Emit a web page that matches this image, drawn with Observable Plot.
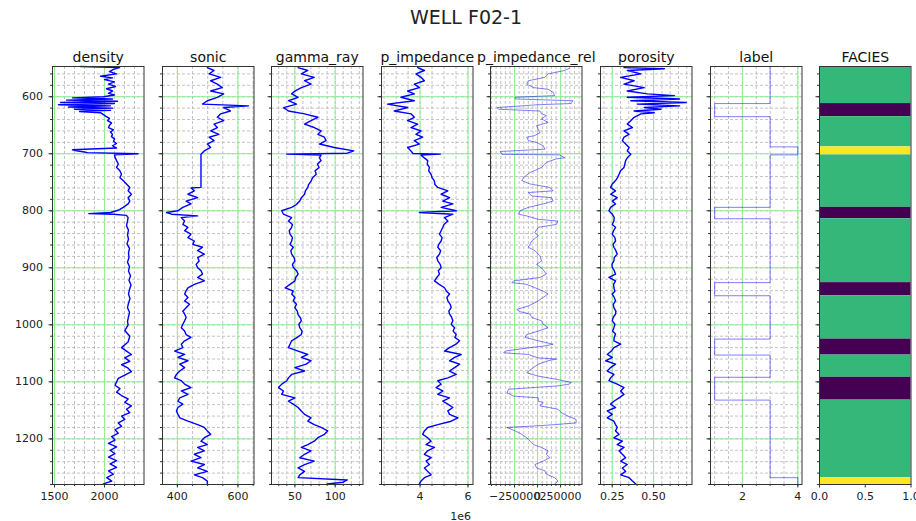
<!DOCTYPE html>
<html><head><meta charset="utf-8">
<script src="https://cdn.jsdelivr.net/npm/d3@7"></script>
<script src="https://cdn.jsdelivr.net/npm/@observablehq/plot@0.6"></script>
<style>
html,body{margin:0;padding:0;background:#fff;overflow:hidden}
#root{position:relative;width:916px;height:521px;font-family:"DejaVu Sans",sans-serif;overflow:hidden}
#title{position:absolute;left:0;width:932px;top:6px;text-align:center;font-size:19px;color:#222}
#root svg{overflow:visible}
</style></head><body><div id="root"><div id="title">WELL F02-1</div></div>
<script>
// ---------- data (depth, value) ----------
const curveNames = ["density","sonic","gamma_ray","p_impedance","p_impedance_rel","porosity","label","FACIES"];

const density = [[547,1760],[549,2150],[552,2090],[556,2050],[560,2120],[564,1960],[567,2080],[570,2000],[574,2100],[578,2040],[582,2110],[586,2020],[590,2080],[594,2040],[597,2100],[600,1990],[602,1680],[604,2080],[606,1620],[608,2130],[610,1560],[612,2100],[614,1540],[616,2060],[618,1640],[620,2080],[622,1700],[624,2060],[626,1750],[628,1960],[630,1980],[634,2010],[638,2050],[642,2030],[646,2070],[650,2050],[654,2040],[658,2090],[662,2060],[666,2080],[670,2070],[674,2100],[678,2090],[682,2120],[686,2080],[690,2120],[693,1680],[695,1720],[697,1800],[698,1830],[700,2335],[702,2100],[706,2105],[712,2121],[718,2138],[724,2121],[730,2154],[736,2170],[742,2154],[747,2187],[753,2220],[759,2253],[765,2236],[771,2269],[777,2236],[783,2253],[788,2236],[794,2187],[798,2150],[800,2121],[803,2060],[805,1843],[806,2090],[808,2220],[812,2236],[818,2230],[826,2220],[834,2240],[842,2230],[850,2240],[858,2225],[866,2250],[874,2240],[882,2245],[890,2230],[898,2250],[906,2240],[914,2260],[922,2245],[930,2265],[938,2250],[946,2240],[954,2255],[962,2240],[970,2230],[978,2250],[986,2240],[994,2230],[1000,2236],[1010,2203],[1020,2253],[1030,2236],[1040,2170],[1046,2220],[1052,2269],[1058,2203],[1064,2253],[1070,2170],[1076,2236],[1082,2269],[1088,2203],[1094,2138],[1100,2121],[1106,2105],[1112,2154],[1118,2121],[1124,2170],[1130,2236],[1136,2203],[1142,2269],[1148,2220],[1154,2253],[1160,2170],[1166,2203],[1172,2138],[1178,2170],[1184,2105],[1190,2138],[1196,2072],[1202,2105],[1208,2040],[1214,2121],[1220,2056],[1226,2105],[1232,2040],[1238,2121],[1244,2056],[1250,2121],[1256,2040],[1262,2089],[1268,2023],[1274,2072],[1279,1990]];

const sonic = [[549,499],[554,521],[560,505],[566,543],[572,510],[578,532],[584,548],[590,510],[595,553],[601,532],[607,499],[613,483],[616,635],[619,553],[625,575],[630,543],[636,532],[642,553],[648,521],[654,532],[660,510],[666,537],[671,505],[677,521],[683,499],[689,510],[695,489],[701,478],[759,478],[760,445],[765,456],[771,435],[777,467],[783,429],[788,445],[794,418],[800,402],[803,364],[806,381],[809,467],[812,413],[818,424],[824,418],[829,435],[835,424],[841,445],[847,435],[853,456],[859,451],[864,483],[870,467],[876,489],[882,467],[888,472],[894,462],[900,467],[905,478],[911,483],[917,467],[923,489],[929,456],[935,435],[940,429],[946,424],[952,435],[958,424],[964,440],[970,429],[976,418],[981,424],[987,429],[993,424],[999,418],[1005,413],[1011,424],[1017,429],[1022,445],[1028,424],[1034,413],[1040,418],[1046,391],[1052,424],[1057,402],[1063,435],[1069,408],[1075,424],[1081,408],[1087,397],[1093,391],[1098,413],[1104,424],[1110,445],[1116,413],[1122,435],[1128,408],[1134,402],[1139,418],[1145,402],[1151,397],[1157,402],[1163,408],[1169,435],[1175,467],[1180,489],[1186,499],[1192,510],[1198,489],[1204,478],[1210,499],[1215,467],[1221,489],[1227,456],[1233,478],[1239,445],[1245,489],[1251,467],[1257,499],[1263,456],[1268,483],[1274,499],[1279,499]];

const gammaRay = [[549,54],[554,66],[560,58],[566,74],[572,62],[578,70],[584,58],[590,50],[595,46],[601,54],[607,42],[613,52],[619,36],[625,42],[630,62],[636,78.5],[642,70],[648,62],[654,74],[660,82.5],[666,78.5],[671,86.6],[677,88.6],[683,80.5],[689,98.8],[695,123],[699,115],[700.6,39.8],[702.5,82.5],[707,80.5],[712,82.5],[718,78],[724,80],[730,75],[736,76.5],[742,72],[748,70],[754,67],[759,66],[765,63],[771,62],[777,58],[783,56],[789,52],[794,46],[800,33.7],[806,35.8],[812,46],[818,42],[824,47],[829,46],[835,43],[841,44],[847,47],[853,46],[859,44],[864,48],[870,45],[876,46],[882,49],[888,50],[894,47],[899,48],[905,52],[911,54],[917,51],[923,50],[929,44],[935,38],[941,48],[946,46],[952,50],[958,48],[964,52],[970,50],[976,53],[982,54],[988,57],[993,58],[999,55],[1005,56],[1011,59],[1017,58],[1023,52],[1028,46],[1034,44],[1040,42],[1046,54],[1052,66],[1057,58],[1063,70],[1069,64],[1075,50],[1081,62],[1087,46],[1093,42],[1098,40],[1104,33.7],[1110,29.7],[1116,35.8],[1122,33.7],[1128,50],[1134,42],[1139,48],[1145,54],[1151,58],[1157,62],[1163,70],[1169,66],[1175,74],[1180,82.5],[1186,90.7],[1192,86.6],[1198,78.5],[1204,74],[1210,66],[1215,58],[1221,70],[1227,62],[1233,56],[1239,74],[1245,62],[1251,54],[1257,62],[1263,56],[1268,54],[1272,115],[1276,110],[1279,90]];

const pImpedance = [[549,3.90e6],[554,4.18e6],[560,3.83e6],[566,4.04e6],[572,4.18e6],[578,3.76e6],[584,3.97e6],[590,3.48e6],[595,3.76e6],[601,3.20e6],[607,3.76e6],[613,2.64e6],[619,3.48e6],[625,2.92e6],[630,3.62e6],[636,3.76e6],[642,3.48e6],[648,3.90e6],[654,3.62e6],[660,4.04e6],[666,3.83e6],[671,4.11e6],[677,3.76e6],[683,3.97e6],[689,3.48e6],[695,3.62e6],[699.5,3.70e6],[700.6,4.85e6],[702.5,4.04e6],[712,4.32e6],[718,4.30e6],[724,4.39e6],[730,4.36e6],[736,4.46e6],[742,4.50e6],[748,4.60e6],[754,4.62e6],[759,4.74e6],[765,5.16e6],[771,4.88e6],[777,5.23e6],[783,4.95e6],[788,5.37e6],[794,4.88e6],[800,5.51e6],[803,3.97e6],[806,5.37e6],[812,5.02e6],[818,5.16e6],[824,5.00e6],[829,4.95e6],[835,4.88e6],[841,4.81e6],[847,4.92e6],[853,4.88e6],[859,4.78e6],[864,4.74e6],[870,4.86e6],[876,4.81e6],[882,4.70e6],[888,4.74e6],[894,4.84e6],[900,4.88e6],[905,4.76e6],[911,4.81e6],[917,4.70e6],[923,4.60e6],[929,4.80e6],[935,5.02e6],[941,5.10e6],[946,5.23e6],[952,5.12e6],[958,5.16e6],[964,5.26e6],[970,5.30e6],[976,5.20e6],[981,5.23e6],[987,5.32e6],[993,5.37e6],[999,5.30e6],[1005,5.44e6],[1011,5.38e6],[1017,5.51e6],[1022,5.45e6],[1028,5.65e6],[1034,5.50e6],[1040,5.23e6],[1046,5.02e6],[1052,5.72e6],[1057,5.44e6],[1063,5.23e6],[1069,5.65e6],[1075,5.44e6],[1081,5.23e6],[1087,5.51e6],[1093,5.16e6],[1098,4.74e6],[1104,4.88e6],[1110,4.67e6],[1116,4.95e6],[1122,4.74e6],[1128,5.23e6],[1134,4.95e6],[1139,5.16e6],[1145,5.37e6],[1151,5.16e6],[1157,5.23e6],[1163,5.58e6],[1169,5.30e6],[1175,4.74e6],[1180,4.32e6],[1186,4.18e6],[1192,4.11e6],[1198,4.32e6],[1204,4.46e6],[1210,4.25e6],[1215,4.60e6],[1221,4.32e6],[1227,4.18e6],[1233,4.46e6],[1239,4.25e6],[1245,4.39e6],[1251,4.18e6],[1257,4.32e6],[1263,4.46e6],[1268,4.18e6],[1274,4.04e6],[1279,3.97e6]];

const pImpedanceRel = [[550,346000],[554,293000],[560,114000],[566,79000],[572,-100000],[578,-118000],[584,-46000],[587,114000],[592,168000],[598,186000],[601,-243000],[604,-243000],[607,382000],[612,364000],[614,7000],[619,-439000],[622,-421000],[625,25000],[630,43000],[633,96000],[639,43000],[645,114000],[651,-11000],[657,7000],[663,25000],[668,-29000],[671,-118000],[677,-100000],[680,-11000],[686,61000],[692,79000],[696,-404000],[701,-386000],[702,239000],[707,293000],[709,204000],[715,96000],[724,43000],[733,-82000],[742,-154000],[747,-171000],[753,-82000],[759,132000],[765,168000],[768,-100000],[774,-64000],[777,150000],[783,168000],[788,61000],[794,-100000],[800,-189000],[806,-207000],[809,-118000],[815,7000],[818,221000],[824,204000],[829,7000],[838,-29000],[844,7000],[853,-64000],[864,-100000],[870,-29000],[879,25000],[888,43000],[894,-11000],[900,43000],[911,96000],[917,25000],[923,-261000],[926,-279000],[929,-118000],[935,-29000],[941,61000],[946,114000],[952,61000],[958,7000],[967,-100000],[973,-225000],[977,-189000],[981,-82000],[987,-64000],[993,43000],[999,61000],[1005,114000],[1011,7000],[1017,-118000],[1022,-136000],[1028,7000],[1034,168000],[1037,79000],[1040,-82000],[1046,-350000],[1049,-368000],[1052,-100000],[1058,7000],[1060,204000],[1063,114000],[1069,7000],[1075,-46000],[1081,-100000],[1084,-118000],[1090,7000],[1096,221000],[1101,364000],[1104,346000],[1107,221000],[1113,-314000],[1119,-332000],[1125,-261000],[1128,7000],[1134,7000],[1136,61000],[1142,25000],[1148,221000],[1154,257000],[1160,329000],[1166,418000],[1172,418000],[1175,186000],[1177,7000],[1180,-332000],[1186,-243000],[1192,-171000],[1198,-118000],[1204,-82000],[1210,-46000],[1215,43000],[1221,114000],[1227,96000],[1233,132000],[1239,61000],[1245,-29000],[1251,-11000],[1256,79000],[1262,96000],[1268,186000],[1274,221000],[1279,186000]];

const porosity = [[549,0.321],[551,0.565],[554,0.341],[560,0.423],[566,0.301],[572,0.382],[578,0.321],[584,0.443],[590,0.341],[595,0.463],[598,0.626],[601,0.341],[604,0.657],[607,0.362],[610,0.697],[613,0.402],[616,0.657],[619,0.443],[622,0.545],[625,0.382],[628,0.504],[630,0.423],[636,0.382],[642,0.362],[648,0.341],[654,0.372],[660,0.321],[666,0.352],[671,0.321],[677,0.311],[683,0.331],[689,0.352],[695,0.341],[701,0.362],[707,0.341],[712,0.331],[718,0.326],[724,0.321],[730,0.300],[736,0.291],[742,0.282],[747,0.270],[753,0.250],[759,0.240],[765,0.270],[771,0.240],[777,0.280],[783,0.250],[788,0.270],[794,0.240],[800,0.230],[806,0.250],[812,0.262],[818,0.260],[824,0.250],[829,0.270],[835,0.258],[841,0.250],[847,0.266],[853,0.270],[859,0.255],[864,0.260],[870,0.272],[876,0.280],[882,0.262],[888,0.260],[894,0.248],[899,0.250],[905,0.262],[911,0.270],[917,0.230],[923,0.270],[929,0.258],[935,0.260],[941,0.266],[946,0.250],[952,0.262],[958,0.270],[964,0.256],[970,0.260],[976,0.272],[981,0.270],[987,0.256],[993,0.250],[999,0.266],[1005,0.260],[1011,0.252],[1016,0.270],[1022,0.262],[1028,0.260],[1034,0.301],[1040,0.260],[1046,0.244],[1052,0.220],[1057,0.250],[1063,0.210],[1069,0.270],[1075,0.240],[1081,0.220],[1087,0.260],[1093,0.240],[1098,0.230],[1104,0.280],[1110,0.321],[1116,0.301],[1122,0.321],[1128,0.291],[1134,0.260],[1139,0.240],[1145,0.270],[1151,0.220],[1157,0.250],[1163,0.220],[1169,0.260],[1175,0.270],[1180,0.280],[1186,0.270],[1192,0.291],[1198,0.260],[1204,0.311],[1210,0.280],[1215,0.321],[1221,0.291],[1227,0.311],[1233,0.331],[1239,0.301],[1245,0.341],[1251,0.311],[1257,0.331],[1263,0.301],[1268,0.352],[1274,0.372],[1279,0.392]];

// label / facies intervals: top depth of each interval and its value
const labelTops   = [547, 612, 635, 688, 702, 794, 814, 926, 949, 1025, 1053, 1092, 1132, 1268];
const labelValues = [3,   1,   3,   4,   3,   1,   3,   1,   3,   1,    3,    1,    3,    4];
const depthBottom = 1280;

// axis ticks
const depthTicks = [600, 700, 800, 900, 1000, 1100, 1200];
const depthMinor = d3.range(560, 1281, 20);

// ---------- layout ----------
const yDomain = [547, 1280];
const frameTop = 66, frameH = 418, frameW = 91.5, firstLeft = 52, step = 109.6;
const ML = 12, MR = 12, MT = 30, MB = 42;

const toRows = arr => arr.map(([depth, value]) => ({depth, value}));
const intervals = labelTops.map((top, i) => ({top, bottom: i + 1 < labelTops.length ? labelTops[i + 1] : depthBottom, value: labelValues[i]}));
const labelLine = intervals.flatMap(d => [{depth: d.top, value: d.value}, {depth: d.bottom, value: d.value}]);

const plain = d => String(d);
const minus = d => String(d).replace("-", "\u2212");
const panels = [
  {data: toRows(density), domain: [1480, 2395], major: [1500, 2000], minor: d3.range(1500, 2400, 100), fmt: plain},
  {data: toRows(sonic), domain: [351, 653], major: [400, 600], minor: d3.range(400, 651, 50), fmt: plain},
  {data: toRows(gammaRay), domain: [21, 134.5], major: [50, 100], minor: d3.range(30, 131, 10), fmt: plain},
  {data: toRows(pImpedance), domain: [2.39e6, 6.21e6], major: [4e6, 6e6], minor: d3.range(2.5e6, 6.1e6, 0.5e6), fmt: d => String(d / 1e6), offset: "1e6"},
  {data: toRows(pImpedanceRel), domain: [-511000, 482000], major: [-250000, 0, 250000], minor: d3.range(-500000, 480000, 50000), fmt: minus, light: true},
  {data: toRows(porosity), domain: [0.179, 0.732], major: [0.25, 0.5], minor: d3.range(0.2, 0.731, 0.05), fmt: d => d.toFixed(2)},
  {data: labelLine, domain: [0.85, 4.15], major: [2, 4], minor: d3.range(1, 4.01, 0.5), fmt: plain, light: true},
  {facies: true, domain: [0, 1], major: [0, 0.5, 1], minor: [], fmt: d => d.toFixed(1)}
];

const root = document.getElementById("root");
const tickColor = "#333";
panels.forEach((p, i) => {
  const marks = [];
  if (!p.facies) {
    marks.push(Plot.ruleX(p.minor, {stroke: "#b4b4b4", strokeDasharray: "3,2", strokeWidth: 0.8}));
    marks.push(Plot.ruleY(depthMinor, {stroke: "#b4b4b4", strokeDasharray: "3,2", strokeWidth: 0.8}));
    marks.push(Plot.ruleX(p.major, {stroke: "#90ee90", strokeWidth: 1}));
    marks.push(Plot.ruleY(depthTicks, {stroke: "#90ee90", strokeWidth: 1}));
    marks.push(Plot.line(p.data, {x: "value", y: "depth", stroke: "#0000ff", strokeWidth: p.light ? 1 : 1.4, strokeOpacity: p.light ? 0.5 : 1}));
  } else {
    marks.push(Plot.rect(intervals, {y1: "top", y2: "bottom", fill: "value"}));
  }
  marks.push(Plot.axisX({ticks: p.minor, tickSize: 2, tickFormat: () => "", label: null, anchor: "bottom", stroke: tickColor}));
  marks.push(Plot.axisX({ticks: p.major, tickSize: 3.5, tickPadding: 4, tickFormat: p.fmt, label: null, anchor: "bottom", fontSize: 11, fill: "#222", stroke: tickColor}));
  marks.push(Plot.axisY({ticks: depthMinor, tickSize: 2, tickFormat: () => "", label: null, anchor: "left", stroke: tickColor}));
  marks.push(Plot.axisY({ticks: depthTicks, tickSize: 3.5, tickPadding: 6, tickFormat: i === 0 ? plain : (() => ""), label: null, anchor: "left", fontSize: 11, fill: "#222", stroke: tickColor}));
  marks.push(Plot.frame({stroke: "#333", strokeWidth: 1}));
  marks.push(Plot.text([curveNames[i]], {text: d => d, frameAnchor: "top", dy: -14, fontSize: 14, fill: "#111"}));
  if (p.offset) marks.push(Plot.text([p.offset], {text: d => d, frameAnchor: "bottom-right", textAnchor: "end", dy: 35, dx: -2, fontSize: 11, fill: "#222"}));

  const svg = Plot.plot({
    width: frameW + ML + MR, height: frameH + MT + MB,
    marginLeft: ML, marginRight: MR, marginTop: MT, marginBottom: MB,
    style: {fontFamily: "DejaVu Sans, sans-serif", fontSize: "11px", overflow: "visible", background: "transparent"},
    x: {domain: p.domain},
    y: {domain: yDomain, reverse: true},
    color: {type: "sequential", scheme: "viridis", domain: [1, 4]},
    marks
  });
  svg.style.position = "absolute";
  svg.style.left = (firstLeft + i * step - ML) + "px";
  svg.style.top = (frameTop - MT) + "px";
  svg.style.maxWidth = "none";
  root.appendChild(svg);
});
</script></body></html>
